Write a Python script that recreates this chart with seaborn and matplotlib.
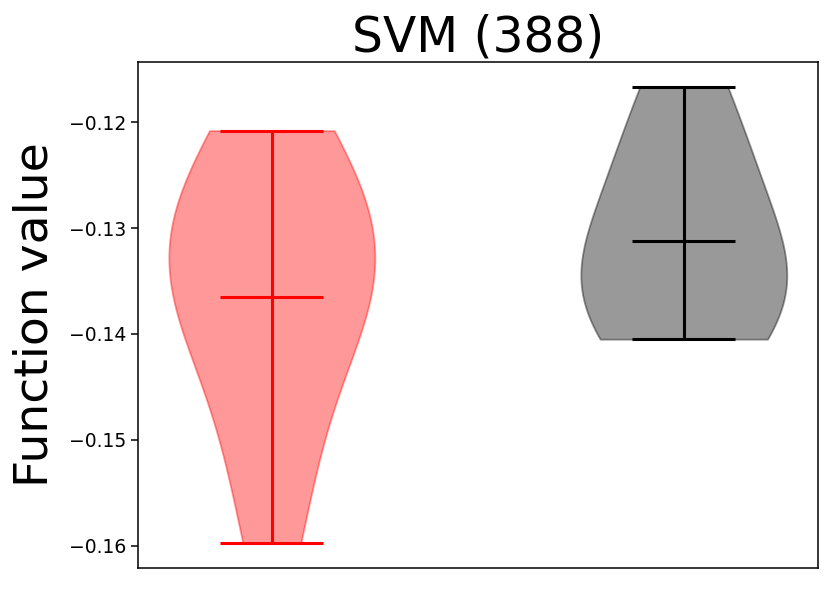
import numpy as np
import pandas as pd
import seaborn as sns
import matplotlib.pyplot as plt

# ===============================
# Data
# ===============================
groups = ["A", "B"]
colors = ["red", "black"]
bw_adjust = [1.15, 1.45]
red_values = [-0.1598, -0.1510, -0.1455, -0.1380, -0.1370, -0.1355,
              -0.1330, -0.1300, -0.1270, -0.1240, -0.1208]
gray_values = [-0.1405, -0.1395, -0.1382, -0.1368, -0.1352, -0.1340,
               -0.1310, -0.1278, -0.1235, -0.1200, -0.1167]
title = "SVM (388)"
ylabel = "Function value"
yticks = [-0.16, -0.15, -0.14, -0.13, -0.12]

df = pd.DataFrame({
    "group": ["A"] * len(red_values) + ["B"] * len(gray_values),
    "value": red_values + gray_values,
})

# ===============================
# Plot
# ===============================
sns.set_style("ticks")
plt.rcParams["text.color"] = "black"
plt.rcParams["axes.labelcolor"] = "black"
plt.rcParams["ytick.color"] = "black"
plt.rcParams["axes.edgecolor"] = "black"

fig = plt.figure(figsize=(8.31, 5.89), dpi=100)
ax = fig.add_axes([0.166, 0.036, 0.818, 0.859])

# one call per group so each body gets its own bandwidth
for g, c, bw in zip(groups, colors, bw_adjust):
    sns.violinplot(data=df[df["group"] == g], x="group", y="value", order=groups,
                   color=c, inner=None, cut=0, density_norm="width", width=0.5,
                   bw_adjust=bw, saturation=1, linewidth=1.3, ax=ax)

for coll, c in zip(ax.collections, colors):
    coll.set_facecolor(c)
    coll.set_edgecolor(c)
    coll.set_alpha(0.4)

# min / max / mean bars like matplotlib's violinplot
for i, (vals, c) in enumerate(zip([red_values, gray_values], colors)):
    lo, hi, mu = min(vals), max(vals), np.mean(vals)
    ax.vlines(i, lo, hi, color=c, lw=2.2)
    ax.hlines([lo, hi, mu], i - 0.125, i + 0.125, color=c, lw=2.2)

ax.set_xlim(-0.325, 1.325)
ax.set_ylim(-0.1621, -0.1143)
ax.set_xticks([])
ax.set_yticks(yticks)
ax.set_yticklabels([f"\u2212{abs(t):.2f}" for t in yticks], fontsize=13.5)
ax.tick_params(axis="y", length=5, width=1.1)
for s in ax.spines.values():
    s.set_linewidth(1.1)
ax.set_xlabel("")
ax.set_ylabel(ylabel, fontsize=34, labelpad=8)
ax.set_title(title, fontsize=35, pad=4)

plt.savefig("out.png", dpi=100)
